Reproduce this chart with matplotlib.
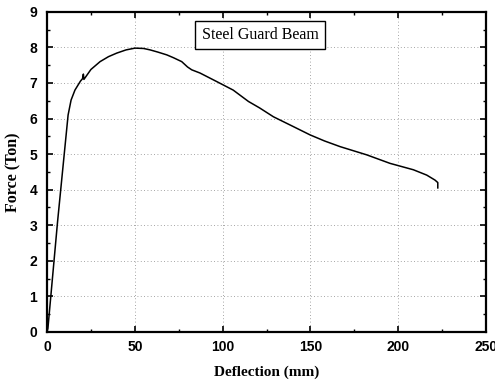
import numpy as np
import matplotlib.pyplot as plt

# Force-deflection curve
deflection = [0.0, 0.5, 6.0, 12.0, 13.7, 15.9, 19.0, 20.2, 20.7, 21.0,
              25.0, 30.2, 35.0, 39.7, 45.0, 50.1, 55.0, 58.7, 63.0, 68.2, 72.0,
              76.7, 80.0, 82.4, 87.1, 96.6, 106.0, 114.7, 121.0, 128.9, 140.0,
              149.8, 158.0, 166.9, 182.0, 195.3, 208.6, 216.2, 220.9, 222.5, 222.5]
force = [0.0, 0.1, 3.1, 6.1, 6.52, 6.8, 7.05, 7.12, 7.25, 7.1,
         7.38, 7.6, 7.74, 7.84, 7.93, 7.98, 7.97, 7.93, 7.87, 7.79, 7.71,
         7.6, 7.45, 7.37, 7.28, 7.04, 6.8, 6.48, 6.3, 6.05, 5.78,
         5.54, 5.37, 5.21, 4.98, 4.74, 4.56, 4.41, 4.27, 4.2, 4.05]

xticks = [0, 50, 100, 150, 200, 250]
yticks = [0, 1, 2, 3, 4, 5, 6, 7, 8, 9]

plt.rcParams['font.family'] = 'Liberation Sans'

fig = plt.figure(figsize=(4.95, 3.82), dpi=100)
ax = fig.add_axes([0.095, 0.131, 0.887, 0.838])

ax.plot(deflection, force, color='black', linewidth=1.1)

ax.set_xlim(0, 250)
ax.set_ylim(0, 9)
ax.set_xticks(xticks)
ax.set_yticks(yticks)
ax.set_xticks([25, 75, 125, 175, 225], minor=True)
ax.set_yticks(np.arange(0.5, 9, 1), minor=True)
ax.tick_params(which='both', direction='in', top=True, right=True)
ax.tick_params(which='major', length=4, width=1.2, labelsize=10)
ax.tick_params(axis='x', which='major', pad=6)
ax.tick_params(axis='y', which='major', pad=7)
ax.tick_params(which='minor', length=2.5, width=1.0)
for lab in ax.get_xticklabels() + ax.get_yticklabels():
    lab.set_fontweight('bold')

for s in ax.spines.values():
    s.set_linewidth(1.6)

# Sparse dotted grid
ax.grid(True, which='major', linestyle=(0, (1, 3)), color='#888888', linewidth=0.6)

ax.set_xlabel('Deflection (mm)', family='Liberation Serif', fontweight='bold', fontsize=11, labelpad=8)
ax.set_ylabel('Force (Ton)', family='Liberation Serif', fontweight='bold', fontsize=11.5, labelpad=6)

ax.text(0.485, 0.928, 'Steel Guard Beam', transform=ax.transAxes, ha='center', va='center',
        family='Liberation Serif', fontsize=11.5,
        bbox=dict(boxstyle='square,pad=0.4', facecolor='white', edgecolor='black', linewidth=1.0))

plt.savefig('out.png', dpi=100)
